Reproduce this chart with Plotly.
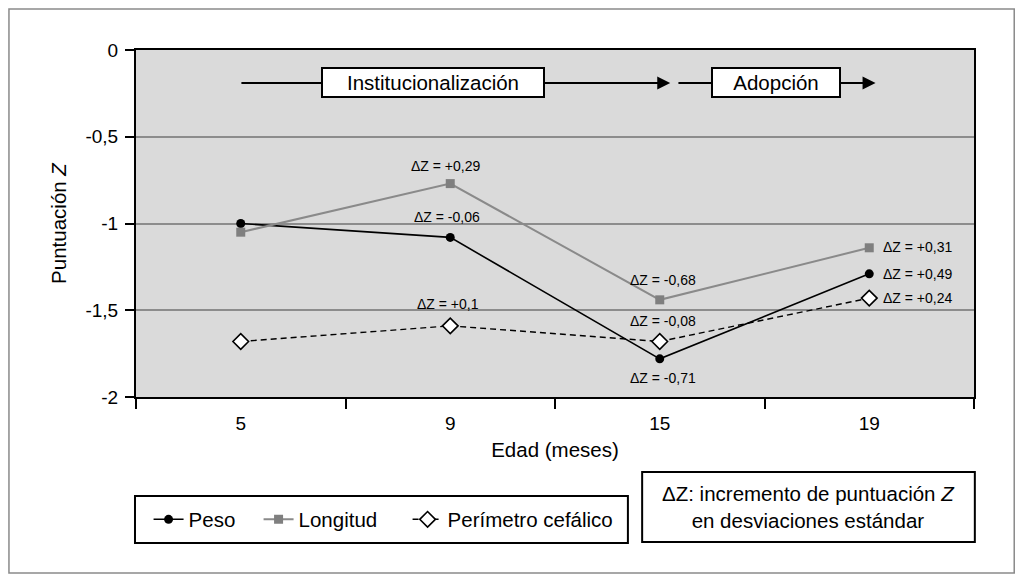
import plotly.graph_objects as go

edad = ["5", "9", "15", "19"]
peso = [-1.00, -1.08, -1.78, -1.29]
longitud = [-1.05, -0.77, -1.44, -1.14]
perimetro = [-1.68, -1.59, -1.68, -1.43]

dz_peso = ["", "ΔZ = -0,06", "ΔZ = -0,71", "ΔZ = +0,49"]
dz_longitud = ["", "ΔZ = +0,29", "ΔZ = -0,68", "ΔZ = +0,31"]
dz_perimetro = ["", "ΔZ = +0,1", "ΔZ = -0,08", "ΔZ = +0,24"]

y_ticks = [0, -0.5, -1, -1.5, -2]
y_ticktext = ["0", "-0,5", "-1", "-1,5", "-2"]

FONT = "Liberation Sans, Arial, sans-serif"
FS = 20.5

fig = go.Figure()
fig.add_trace(go.Scatter(
    x=edad, y=peso, name="Peso", mode="lines+markers", legendwidth=65,
    line=dict(color="black", width=1.6),
    marker=dict(symbol="circle", size=9, color="black")))
fig.add_trace(go.Scatter(
    x=edad, y=longitud, name="Longitud", mode="lines+markers", legendwidth=104,
    line=dict(color="#8a8a8a", width=2),
    marker=dict(symbol="square", size=9, color="#7f7f7f")))
fig.add_trace(go.Scatter(
    x=edad, y=perimetro, name="Perímetro cefálico", mode="lines+markers", legendwidth=170,
    line=dict(color="black", width=1.4, dash="6px,4px"),
    marker=dict(symbol="diamond", size=12, color="white",
                line=dict(color="black", width=1.6))))

annotations = []


def dz(ys, texts, yshifts, xshifts, anchors):
    for i, t in enumerate(texts):
        if not t:
            continue
        annotations.append(dict(
            x=i, y=ys[i], xref="x", yref="y", text=t, showarrow=False,
            xanchor=anchors[i], yanchor="middle", yshift=yshifts[i], xshift=xshifts[i],
            font=dict(family=FONT, size=14, color="black")))


dz(longitud, dz_longitud, [0, 18, 20, 1], [0, -5, 3, 12], ["center", "center", "center", "left"])
dz(peso, dz_peso, [0, 20, -19, 0], [0, -3, 3, 12], ["center", "center", "center", "left"])
dz(perimetro, dz_perimetro, [0, 22, 20, 0], [0, -2, 3, 12], ["center", "center", "center", "left"])

# Arrows for periods
arrow_y = -0.19
for x_head, x_tail in [(2.05, -0.004), (3.03, 2.082)]:
    annotations.append(dict(
        x=x_head, y=arrow_y, ax=x_tail, ay=arrow_y, xref="x", yref="y",
        axref="x", ayref="y", text="", showarrow=True,
        arrowhead=2, arrowsize=1.3, arrowwidth=2, arrowcolor="black"))
for x_c, label, w in [(0.918, "Institucionalización", 220), (2.555, "Adopción", 126)]:
    annotations.append(dict(
        x=x_c, y=arrow_y, xref="x", yref="y", text=label, showarrow=False,
        bgcolor="white", bordercolor="black", borderwidth=2, borderpad=0,
        width=w, height=27, xanchor="center", yanchor="middle",
        font=dict(family=FONT, size=FS, color="black")))

# ΔZ explanatory box text
annotations.append(dict(
    x=0.8025, y=-0.317, xref="paper", yref="paper",
    text="ΔZ: incremento de puntuación <i>Z</i><br>en desviaciones estándar",
    showarrow=False, xanchor="center", yanchor="middle", align="center",
    font=dict(family=FONT, size=FS, color="black")))

shapes = [
    # outer frame
    dict(type="rect", xref="paper", yref="paper", x0=-0.1516, x1=1.048, y0=-0.507, y1=1.118,
         line=dict(color="#8a8a8a", width=1.5), fillcolor="rgba(0,0,0,0)", layer="below"),
    # legend box
    dict(type="rect", xref="paper", yref="paper", x0=-0.0012, x1=0.587, y0=-0.421, y1=-0.285,
         line=dict(color="black", width=2), fillcolor="white", layer="below"),
    # ΔZ box
    dict(type="rect", xref="paper", yref="paper", x0=0.604, x1=1.001, y0=-0.418, y1=-0.216,
         line=dict(color="black", width=2), fillcolor="white", layer="below"),
]

fig.update_layout(
    width=1016, height=574,
    margin=dict(l=128, r=50, t=42, b=185),
    paper_bgcolor="white", plot_bgcolor="#dadada",
    font=dict(family=FONT, size=FS, color="black"),
    showlegend=True,
    legend=dict(orientation="h", x=0.015, xanchor="left", y=-0.353, yanchor="middle",
                bgcolor="rgba(0,0,0,0)", borderwidth=0,
                font=dict(family=FONT, size=FS, color="black")),
    annotations=annotations, shapes=shapes,
    xaxis=dict(type="category", range=[-0.5, 3.5], tickson="boundaries",
               ticks="outside", ticklen=10, tickwidth=2, tickcolor="black",
               showline=True, linecolor="black", linewidth=2, mirror=True,
               showgrid=False, zeroline=False, ticklabelstandoff=8,
               tickfont=dict(family=FONT, size=19),
               title=dict(text="Edad (meses)", standoff=10, font=dict(family=FONT, size=FS))),
    yaxis=dict(range=[-2, 0], tickvals=y_ticks, ticktext=y_ticktext,
               ticks="outside", ticklen=9, tickwidth=2, tickcolor="black",
               showline=True, linecolor="black", linewidth=2, mirror=True,
               showgrid=True, gridcolor="#8c8c8c", gridwidth=2, zeroline=False,
               ticklabelstandoff=3,
               tickfont=dict(family=FONT, size=19),
               title=dict(text="Puntuación <i>Z</i>", standoff=13, font=dict(family=FONT, size=FS))),
)

fig.write_html("out.html")
